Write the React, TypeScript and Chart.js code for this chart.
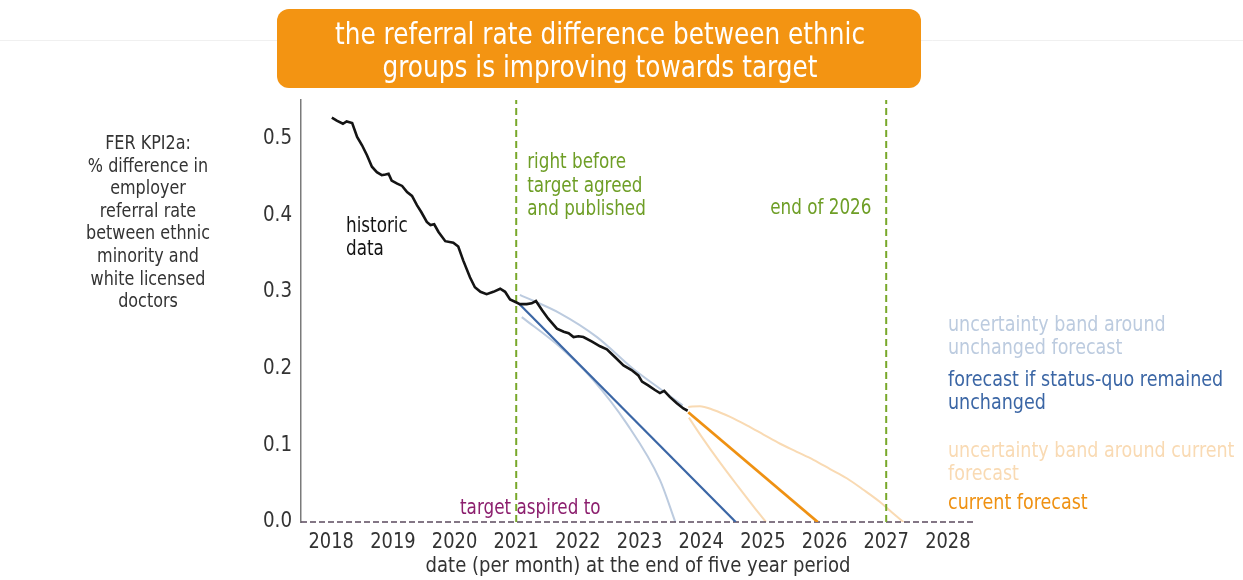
import React, { useEffect, useRef } from 'react';
import { Chart, registerables } from 'chart.js';

Chart.register(...registerables);

// ---------------- data ----------------
const xTicks = [2018, 2019, 2020, 2021, 2022, 2023, 2024, 2025, 2026, 2027, 2028];
const yTicks = [0, 0.1, 0.2, 0.3, 0.4, 0.5];
const X_MIN = 2017.51;
const X_MAX = 2028.44;
const Y_MIN = 0;
const Y_MAX = 0.55;

const histYears = [
  2018.01, 2018.09, 2018.19, 2018.25, 2018.34, 2018.42, 2018.5, 2018.58, 2018.66, 2018.74, 2018.82, 2018.88, 2018.93, 2018.98,
  2019.07, 2019.15, 2019.23, 2019.31, 2019.39, 2019.46, 2019.55, 2019.61, 2019.67, 2019.74, 2019.85, 2019.98,
  2020.06, 2020.14, 2020.25, 2020.33, 2020.42, 2020.52, 2020.63, 2020.74, 2020.82, 2020.9, 2020.98,
  2021.06, 2021.17, 2021.25, 2021.32, 2021.42, 2021.52, 2021.66, 2021.77, 2021.85, 2021.93,
  2022.01, 2022.09, 2022.23, 2022.36, 2022.47, 2022.6, 2022.74, 2022.87, 2022.98,
  2023.04, 2023.14, 2023.25, 2023.33, 2023.4, 2023.49, 2023.6, 2023.71, 2023.78,
];
const histValues = [
  0.527, 0.523, 0.519, 0.522, 0.52, 0.502, 0.491, 0.478, 0.463, 0.456, 0.452, 0.453, 0.454, 0.445,
  0.441, 0.438, 0.43, 0.425, 0.413, 0.404, 0.391, 0.387, 0.388, 0.378, 0.366, 0.364,
  0.359, 0.341, 0.319, 0.306, 0.3, 0.297, 0.3, 0.304, 0.3, 0.29, 0.287,
  0.284, 0.284, 0.285, 0.288, 0.276, 0.265, 0.252, 0.248, 0.246, 0.241,
  0.242, 0.241, 0.235, 0.229, 0.225, 0.215, 0.204, 0.198, 0.191,
  0.183, 0.178, 0.172, 0.168, 0.171, 0.163, 0.155, 0.148, 0.145,
];

const statusQuoYears = [2021.05, 2024.56];
const statusQuoValues = [0.284, 0];
const statusQuoUpperYears = [2021.06, 2021.71, 2022.31, 2022.89, 2023.36, 2023.7];
const statusQuoUpperValues = [0.296, 0.272, 0.241, 0.2, 0.172, 0.152];
const statusQuoLowerYears = [2021.09, 2021.71, 2022.25, 2022.79, 2023.33, 2023.58];
const statusQuoLowerValues = [0.267, 0.228, 0.185, 0.1285, 0.055, 0];

const currentYears = [2023.79, 2025.89];
const currentValues = [0.143, 0];
const currentUpperYears = [2023.79, 2023.98, 2024.2, 2024.47, 2024.74, 2025.01, 2025.28, 2025.55, 2025.82, 2026.09, 2026.36, 2026.63, 2026.9, 2027.1, 2027.28];
const currentUpperValues = [0.15, 0.151, 0.146, 0.137, 0.126, 0.114, 0.102, 0.0915, 0.081, 0.069, 0.057, 0.042, 0.026, 0.012, 0];
const currentLowerYears = [2023.8, 2024.0, 2024.3, 2024.6, 2024.85, 2025.05];
const currentLowerValues = [0.136, 0.112, 0.078, 0.046, 0.02, 0];

const milestoneYears = [2021, 2027];
const targetValue = 0;

const titleLines = ['the referral rate difference between ethnic', 'groups is improving towards target'];
const yTitleLines = ['FER KPI2a:', '% difference in', 'employer', 'referral rate', 'between ethnic', 'minority and', 'white licensed', 'doctors'];
const xTitle = 'date (per month) at the end of five year period';
const historicLabel = ['historic', 'data'];
const milestoneLabels = [['right before', 'target agreed', 'and published'], ['end of 2026']];
const targetLabel = 'target aspired to';
const legendItems = [
  { lines: ['uncertainty band around', 'unchanged forecast'], key: 'lightBlue' },
  { lines: ['forecast if status-quo remained', 'unchanged'], key: 'blue' },
  { lines: ['uncertainty band around current', 'forecast'], key: 'lightOrange' },
  { lines: ['current forecast'], key: 'orange' },
];

// ---------------- styles ----------------
const FONT = '"DejaVu Sans", Verdana, sans-serif';
const SX = 0.8;
const COLORS: Record<string, string> = {
  black: '#141414',
  blue: '#3b66a5',
  lightBlue: '#bccbdf',
  orange: '#ef9112',
  lightOrange: '#f9dab3',
  green: '#78a82a',
  greenText: '#6e9e26',
  purple: '#8c1f6e',
  target: '#5b4a5e',
  text: '#333333',
  axis: '#7a7a7a',
  titleBox: '#f39412',
};

const pts = (xs: number[], ys: number[]) => xs.map((x, i) => ({ x, y: ys[i] }));

function txt(
  ctx: CanvasRenderingContext2D,
  s: string,
  x: number,
  y: number,
  size: number,
  color: string,
  align: CanvasTextAlign = 'left',
  baseline: CanvasTextBaseline = 'alphabetic',
  sx: number = SX,
) {
  ctx.save();
  ctx.translate(x, y);
  ctx.scale(sx, 1);
  ctx.font = `${size}px ${FONT}`;
  ctx.fillStyle = color;
  ctx.textAlign = align;
  ctx.textBaseline = baseline;
  ctx.fillText(s, 0, 0);
  ctx.restore();
}

const overlayPlugin = {
  id: 'overlay',
  beforeDraw(chart: any) {
    const ctx = chart.ctx as CanvasRenderingContext2D;
    ctx.save();
    ctx.fillStyle = '#ffffff';
    ctx.fillRect(0, 0, chart.width, chart.height);
    ctx.strokeStyle = '#f0f0f0';
    ctx.lineWidth = 1;
    ctx.beginPath();
    ctx.moveTo(0, 40.5);
    ctx.lineTo(chart.width, 40.5);
    ctx.stroke();
    ctx.restore();
  },
  afterDraw(chart: any) {
    const ctx = chart.ctx as CanvasRenderingContext2D;
    const xs = chart.scales.x;
    const ys = chart.scales.y;

    // title box
    ctx.save();
    ctx.fillStyle = COLORS.titleBox;
    ctx.beginPath();
    (ctx as any).roundRect(277, 9, 644, 79, 12);
    ctx.fill();
    ctx.restore();
    txt(ctx, titleLines[0], 600, 44, 31, '#ffffff', 'center');
    txt(ctx, titleLines[1], 600, 77, 31, '#ffffff', 'center');

    // y axis title
    const yTitleBase = [149, 172, 194, 217, 239, 262, 285, 307];
    yTitleLines.forEach((l, i) => txt(ctx, l, 148, yTitleBase[i], 20, COLORS.text, 'center'));

    // tick labels via scales
    ys.ticks.forEach((t: any) => {
      const py = ys.getPixelForValue(t.value);
      txt(ctx, t.value.toFixed(1), ys.right - 9, py, 21, COLORS.text, 'right', 'middle', 0.87);
    });
    xs.ticks.forEach((t: any) => {
      const px = xs.getPixelForValue(t.value);
      txt(ctx, String(t.value), px, ys.bottom + 21, 21, COLORS.text, 'center', 'middle', 0.85);
    });
    txt(ctx, xTitle, (xs.left + xs.right) / 2, ys.bottom + 44, 22, COLORS.text, 'center', 'middle', 0.82);

    // annotations
    txt(ctx, historicLabel[0], 346, 232, 21, COLORS.black);
    txt(ctx, historicLabel[1], 346, 255, 21, COLORS.black);
    const m0 = xs.getPixelForValue(milestoneYears[0]);
    const m1 = xs.getPixelForValue(milestoneYears[1]);
    milestoneLabels[0].forEach((l, i) => txt(ctx, l, m0 + 11, 168 + i * 23.5, 21, COLORS.greenText));
    txt(ctx, milestoneLabels[1][0], m1 - 116, 214, 21, COLORS.greenText);
    txt(ctx, targetLabel, 460, 514, 21, COLORS.purple);

    // legend texts
    const legBase = [[331, 354], [386, 409], [457, 480], [509]];
    legendItems.forEach((it, i) => {
      it.lines.forEach((l, j) => txt(ctx, l, 948, legBase[i][j], 21, COLORS[it.key], 'left', 'alphabetic', 0.835));
    });
  },
};

export default function App() {
  const ref = useRef<HTMLCanvasElement | null>(null);

  useEffect(() => {
    if (!ref.current) return;
    const line = (data: any[], color: string, width: number, extra: any = {}) => ({
      data,
      borderColor: color,
      backgroundColor: color,
      borderWidth: width,
      showLine: true,
      pointRadius: 0,
      fill: false,
      ...extra,
    });
    const chart = new Chart(ref.current, {
      type: 'scatter',
      data: {
        datasets: [
          line(pts(histYears, histValues), COLORS.black, 2.6, { label: 'historic data' }),
          line(pts(currentYears, currentValues), COLORS.orange, 2.8, { label: 'current forecast' }),
          line(pts(statusQuoYears, statusQuoValues), COLORS.blue, 2.2, { label: 'forecast if status-quo remained unchanged' }),
          ...milestoneYears.map((yr) =>
            line([{ x: yr, y: Y_MIN }, { x: yr, y: Y_MAX }], COLORS.green, 2, { borderDash: [7, 4], label: 'milestone' }),
          ),
          line([{ x: X_MIN, y: targetValue }, { x: X_MAX, y: targetValue }], COLORS.target, 1.6, {
            borderDash: [6, 3],
            clip: false,
            label: 'target aspired to',
          }),
          line(pts(currentUpperYears, currentUpperValues), COLORS.lightOrange, 2, { cubicInterpolationMode: 'monotone', label: 'band current upper' }),
          line(pts(currentLowerYears, currentLowerValues), COLORS.lightOrange, 2, { cubicInterpolationMode: 'monotone', label: 'band current lower' }),
          line(pts(statusQuoUpperYears, statusQuoUpperValues), COLORS.lightBlue, 2, { cubicInterpolationMode: 'monotone', label: 'band unchanged upper' }),
          line(pts(statusQuoLowerYears, statusQuoLowerValues), COLORS.lightBlue, 2, { cubicInterpolationMode: 'monotone', label: 'band unchanged lower' }),
        ],
      },
      options: {
        animation: false,
        responsive: false,
        devicePixelRatio: 1,
        layout: { padding: { left: 0, right: 268, top: 100, bottom: 0 } },
        plugins: { legend: { display: false }, tooltip: { enabled: false } },
        scales: {
          x: {
            type: 'linear',
            min: X_MIN,
            max: X_MAX,
            grid: { display: false },
            border: { display: false },
            ticks: { display: false },
            afterBuildTicks: (s: any) => {
              s.ticks = xTicks.map((v) => ({ value: v }));
            },
            afterFit: (s: any) => {
              s.height = 58;
            },
          },
          y: {
            type: 'linear',
            min: Y_MIN,
            max: Y_MAX,
            grid: { display: false },
            border: { display: true, color: COLORS.axis, width: 1.5 },
            ticks: { display: false },
            afterBuildTicks: (s: any) => {
              s.ticks = yTicks.map((v) => ({ value: v }));
            },
            afterFit: (s: any) => {
              s.width = 301;
            },
          },
        },
      } as any,
      plugins: [overlayPlugin],
    });
    return () => chart.destroy();
  }, []);

  return (
    <div style={{ position: 'fixed', left: 0, top: 0, width: 1243, height: 580, background: '#fff' }}>
      <canvas ref={ref} width={1243} height={580} style={{ display: 'block', width: 1243, height: 580 }} />
    </div>
  );
}
